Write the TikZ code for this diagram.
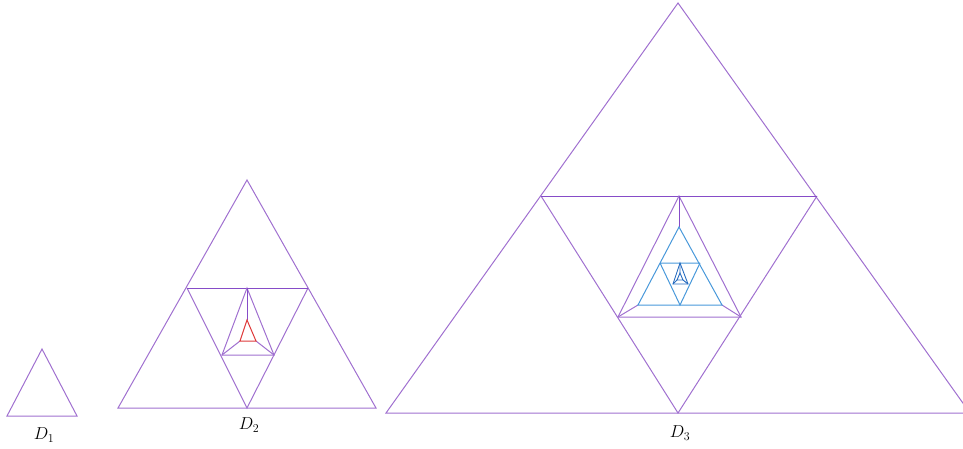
\documentclass[tikz,border=0pt]{standalone}
\usepackage{tikz}
\usetikzlibrary{calc}
\definecolor{lilac}{RGB}{160,112,208}
\definecolor{plum}{RGB}{134,76,200}
\definecolor{sky}{RGB}{72,152,218}
\definecolor{deepsky}{RGB}{38,108,192}
\definecolor{brick}{RGB}{222,58,58}
\tikzset{
	outline/.style={draw=lilac, line width=1pt},
	midline/.style={draw=plum, line width=0.9pt},
	inner_blue/.style={draw=sky, line width=1pt},
	inner_deep/.style={draw=deepsky, line width=0.9pt},
	inner_red/.style={draw=brick, line width=1pt},
	dlabel/.style={font=\fontsize{17}{19}\selectfont, inner sep=0pt}
}

\begin{document}
\begin{tikzpicture}[x=1pt,y=-1pt]
				\useasboundingbox (0,0) rectangle (963,448);
				% D1
				\coordinate (a1) at (42,349);
				\coordinate (b1) at (7,416);
				\coordinate (c1) at (77,416);
				\draw[outline] (a1) -- (b1) -- (c1) -- cycle;
				\node[dlabel] (lab1) at (44,435) {$D_1$};
				% D2
				\coordinate (a2) at (247,180);
				\coordinate (b2) at (118,408);
				\coordinate (c2) at (376,408);
				\coordinate (l2) at (187,288);
				\coordinate (r2) at (308,288);
				\coordinate (m2) at (247,408);
				\coordinate (p2a) at (247,288);
				\coordinate (p2b) at (222,355);
				\coordinate (p2c) at (274,355);
				\coordinate (q2a) at (247,320);
				\coordinate (q2b) at (240,341);
				\coordinate (q2c) at (256,341);
				\draw[outline] (a2) -- (b2) -- (c2) -- cycle;
				\draw[outline] (l2) -- (m2) -- (r2);
				\draw[midline] (l2) -- (r2);
				\draw[outline] (p2a) -- (p2b) -- (p2c) -- cycle;
				\draw[midline] (p2a) -- (q2a);
				\draw[outline] (p2b) -- (q2b) (p2c) -- (q2c);
				\draw[inner_red] (q2a) -- (q2b) -- (q2c) -- cycle;
				\node[dlabel] (lab2) at (249,425) {$D_2$};
				% D3
				\coordinate (a3) at (678,3);
				\coordinate (b3) at (386,413);
				\coordinate (c3) at (970,413);
				\coordinate (l3) at (541,196);
				\coordinate (r3) at (817,196);
				\coordinate (m3) at (678,413);
				\coordinate (p3a) at (679,196);
				\coordinate (p3b) at (618,317);
				\coordinate (p3c) at (741,317);
				\coordinate (q3a) at (679,227);
				\coordinate (q3b) at (638,305);
				\coordinate (q3c) at (722,305);
				\coordinate (s3l) at (660,263);
				\coordinate (s3r) at (700,263);
				\coordinate (s3m) at (680,305);
				\coordinate (t3a) at (680,263);
				\coordinate (t3b) at (673,284);
				\coordinate (t3c) at (688,284);
				\coordinate (u3a) at (680,273);
				\coordinate (u3b) at (677,280);
				\coordinate (u3c) at (683,280);
				\draw[outline] (a3) -- (b3) -- (c3) -- cycle;
				\draw[outline] (l3) -- (m3) -- (r3);
				\draw[midline] (l3) -- (r3);
				\draw[outline] (p3a) -- (p3b) -- (p3c) -- cycle;
				\draw[midline] (p3a) -- (q3a);
				\draw[outline] (p3b) -- (q3b) (p3c) -- (q3c);
				\draw[inner_blue] (q3a) -- (q3b) -- (q3c) -- cycle;
				\draw[inner_blue] (s3l) -- (s3r) (s3l) -- (s3m) -- (s3r);
				\draw[inner_deep] (t3a) -- (t3b) -- (t3c) -- cycle;
				\draw[inner_deep] (t3a) -- (u3a) (t3b) -- (u3b) (t3c) -- (u3c);
				\draw[inner_deep] (u3a) -- (u3b) -- (u3c) -- cycle;
				\node[dlabel] (lab3) at (680,433) {$D_3$};
			\end{tikzpicture}
\end{document}
